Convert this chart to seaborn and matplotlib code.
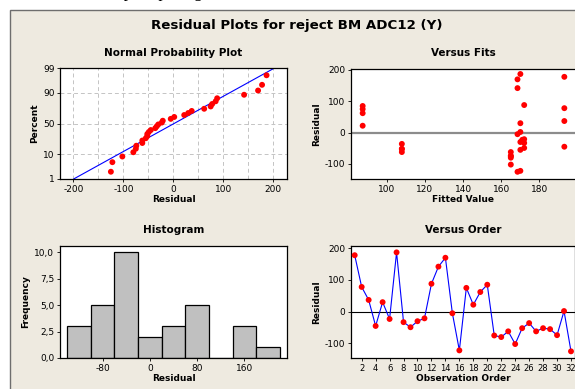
import numpy as np
import pandas as pd
import matplotlib
matplotlib.use("Agg")
import matplotlib.pyplot as plt
from matplotlib.patches import Rectangle
from matplotlib.ticker import MultipleLocator, FuncFormatter
from statistics import NormalDist
import seaborn as sns

order = list(range(1, 33))
residuals = [178, 78, 37, -45, 30, -23, 187, -33, -49, -30, -21, 88, 142, 170, -5, -122,
             75, 22, 62, 85, -75, -80, -62, -102, -52, -36, -62, -52, -55, -74, 2, -125]
fitted = [193, 193, 193, 193, 170, 171, 170, 172, 172, 170, 172, 172, 168.5, 168.5, 168.5, 170,
          87.5, 87.5, 87.5, 87.5, 165, 165, 165, 165, 108, 108, 108, 108, 170, 165, 170, 168.5]

df = pd.DataFrame({"order": order, "resid": residuals, "fit": fitted})

sns.set_style("white")
plt.rcParams["font.family"] = ["DejaVu Sans"]
plt.rcParams["axes.unicode_minus"] = False
for k in ["text.color", "axes.labelcolor", "xtick.color", "ytick.color"]:
    plt.rcParams[k] = "black"

W, H = 575, 389
fig = plt.figure(figsize=(W / 100, H / 100), dpi=100, facecolor="white")

# beige panel of the minitab window
fig.patches.append(Rectangle((10 / W, -0.05), 1.1, 1.05 - 10 / H, transform=fig.transFigure,
                             facecolor="#EEEAE0", edgecolor="#6E6E6E", lw=1, zorder=-5))
# bottom of the document line above the screenshot (cut off in the reference too)
fig.text(60 / W, 1 + 3 / H, "se data seperti pada gambar 3 berikut ini.", family="Liberation Serif",
         fontsize=12, va="baseline", ha="left", color="black")

fig.text(297 / W, 1 - 26 / H, "Residual Plots for reject BM ADC12 (Y)", fontsize=9.6,
         fontweight="bold", ha="center", va="center")


def box(l, t, r, b):
    return [l / W, 1 - b / H, (r - l) / W, (b - t) / H]


def style(ax, title, xlabel, ylabel):
    ax.set_facecolor("white")
    for s in ax.spines.values():
        s.set_visible(True)
        s.set_color("black")
        s.set_linewidth(0.9)
    ax.tick_params(direction="out", length=2.5, width=0.6, labelsize=6.5, pad=1.5,
                   bottom=True, left=True, colors="black")
    ax.set_title(title, fontsize=7.5, fontweight="bold", pad=9)
    ax.set_xlabel(xlabel, fontsize=6.5, fontweight="bold", labelpad=1)
    ax.set_ylabel(ylabel, fontsize=6.5, fontweight="bold", labelpad=3)


red = "#FF0000"
blue = "#0000FF"

# ---- Normal probability plot
nd = NormalDist()
fwd = np.vectorize(lambda p: nd.inv_cdf(min(max(p, 1e-6), 100 - 1e-6) / 100), otypes=[float])
inv = np.vectorize(lambda z: nd.cdf(z) * 100, otypes=[float])

ax1 = fig.add_axes(box(60, 68, 287, 179))
ax1.set_yscale("function", functions=(fwd, inv))
srt = np.sort(np.array(residuals, float))
n = len(srt)
pct = (np.arange(1, n + 1) - 0.3) / (n + 0.4) * 100
mu, sd = srt.mean(), srt.std(ddof=1)
line_p = np.array([1, 5, 25, 50, 75, 95, 99], float)
line_x = mu + sd * np.array([nd.inv_cdf(p / 100) for p in line_p])
ax1.plot(line_x, line_p, color=blue, lw=0.8, zorder=2)
sns.scatterplot(x=srt, y=pct, ax=ax1, color=red, s=18, edgecolor="none", zorder=3)
ax1.set_xlim(-227, 228)
ax1.set_ylim(1, 99)
ax1.set_yticks([1, 10, 50, 90, 99])
ax1.set_yticklabels(["1", "10", "50", "90", "99"])
ax1.set_xticks([-200, -100, 0, 100, 200])
ax1.xaxis.set_minor_locator(MultipleLocator(50))
ax1.yaxis.set_minor_locator(plt.NullLocator())
ax1.tick_params(which="minor", length=0)
ax1.grid(axis="x", which="both", color="#C4C4C4", linestyle=(0, (4, 3)), lw=0.7)
ax1.grid(axis="y", which="major", color="#C4C4C4", linestyle=(0, (4, 3)), lw=0.7)
style(ax1, "Normal Probability Plot", "Residual", "Percent")

# ---- Versus fits
ax2 = fig.add_axes(box(351, 69, 576, 179))
ax2.axhline(0, color="#8C8C8C", lw=1.6, zorder=1)
sns.scatterplot(data=df, x="fit", y="resid", ax=ax2, color=red, s=18, edgecolor="none", zorder=3)
ax2.set_xlim(81.4, 199.1)
ax2.set_ylim(-148, 203)
ax2.set_xticks([100, 120, 140, 160, 180])
ax2.set_yticks([-100, 0, 100, 200])
style(ax2, "Versus Fits", "Fitted Value", "Residual")

# ---- Histogram
ax3 = fig.add_axes(box(60, 245.7, 287, 358))
sns.histplot(data=df, x="resid", ax=ax3, binwidth=40, binrange=(-140, 220),
             color="#C0C0C0", edgecolor="black", linewidth=0.9, alpha=1)
ax3.set_xlim(-152, 232)
ax3.set_ylim(0, 10.6)
ax3.set_xticks([-80, 0, 80, 160])
ax3.set_yticks([0, 2.5, 5, 7.5, 10])
ax3.yaxis.set_major_formatter(FuncFormatter(lambda v, p: f"{v:.1f}".replace(".", ",")))
style(ax3, "Histogram", "Residual", "Frequency")

# ---- Versus order
ax4 = fig.add_axes(box(351, 245.7, 574.7, 358))
ax4.axhline(0, color="black", lw=0.8, zorder=1)
sns.lineplot(data=df, x="order", y="resid", ax=ax4, color=blue, lw=0.8, zorder=2)
sns.scatterplot(data=df, x="order", y="resid", ax=ax4, color=red, s=18, edgecolor="none", zorder=3)
ax4.set_xlim(0.47, 32.53)
ax4.set_ylim(-146, 208)
ax4.set_xticks(list(range(2, 33, 2)))
ax4.set_yticks([-100, 0, 100, 200])
style(ax4, "Versus Order", "Observation Order", "Residual")
ax4.tick_params(axis="x", labelsize=6)

fig.savefig("out.png", dpi=100, facecolor=fig.get_facecolor())
